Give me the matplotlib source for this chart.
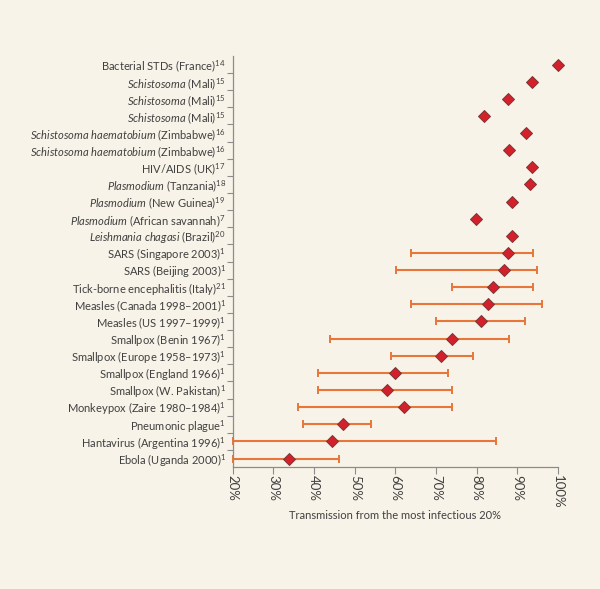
import numpy as np
import matplotlib
matplotlib.use("Agg")
import matplotlib.pyplot as plt
from matplotlib.ticker import FixedLocator

# шрифты и mathtext для верхних индексов и курсива
plt.rcParams['font.family'] = ['Lato', 'DejaVu Sans']
plt.rcParams['mathtext.fontset'] = 'custom'
plt.rcParams['mathtext.rm'] = 'Lato'
plt.rcParams['mathtext.it'] = 'Lato:italic'
plt.rcParams['mathtext.default'] = 'regular'

# данные (сверху вниз)
names = [
    "Bacterial STDs (France)$^{14}$",
    "$\\mathit{Schistosoma}$ (Mali)$^{15}$",
    "$\\mathit{Schistosoma}$ (Mali)$^{15}$",
    "$\\mathit{Schistosoma}$ (Mali)$^{15}$",
    "$\\mathit{Schistosoma\\ haematobium}$ (Zimbabwe)$^{16}$",
    "$\\mathit{Schistosoma\\ haematobium}$ (Zimbabwe)$^{16}$",
    "HIV/AIDS (UK)$^{17}$",
    "$\\mathit{Plasmodium}$ (Tanzania)$^{18}$",
    "$\\mathit{Plasmodium}$ (New Guinea)$^{19}$",
    "$\\mathit{Plasmodium}$ (African savannah)$^{7}$",
    "$\\mathit{Leishmania\\ chagasi}$ (Brazil)$^{20}$",
    "SARS (Singapore 2003)$^{1}$",
    "SARS (Beijing 2003)$^{1}$",
    "Tick-borne encephalitis (Italy)$^{21}$",
    "Measles (Canada 1998–2001)$^{1}$",
    "Measles (US 1997–1999)$^{1}$",
    "Smallpox (Benin 1967)$^{1}$",
    "Smallpox (Europe 1958–1973)$^{1}$",
    "Smallpox (England 1966)$^{1}$",
    "Smallpox (W. Pakistan)$^{1}$",
    "Monkeypox (Zaire 1980–1984)$^{1}$",
    "Pneumonic plague$^{1}$",
    "Hantavirus (Argentina 1996)$^{1}$",
    "Ebola (Uganda 2000)$^{1}$",
]
values = [100, 93.7, 87.7, 81.8, 92.1, 87.9, 93.7, 93.2, 88.8, 79.8, 88.8,
          87.8, 86.6, 83.9, 82.8, 81.1, 73.9, 71.2, 59.8, 58.0, 62.0, 47.1, 44.4, 33.8]
low = [np.nan] * 11 + [63.9, 60.1, 73.9, 63.9, 70.1, 44.0, 59.0, 41.0, 41.0, 36.1, 37.2, 20.0, 20.0]
high = [np.nan] * 11 + [93.9, 94.8, 93.9, 96.1, 92.0, 88.0, 79.0, 72.9, 73.9, 73.9, 53.9, 84.8, 46.2]
xticks = [20, 30, 40, 50, 60, 70, 80, 90, 100]

bg = '#f8f3e8'
grey = '#8c8c8c'
text_c = '#404040'

fig = plt.figure(figsize=(6, 5.89), dpi=100, facecolor=bg)
ax = fig.add_axes([0.388, 0.207, 0.542, 0.698], facecolor=bg)

y = np.arange(len(names))
v = np.array(values)
lo = np.array(low)
hi = np.array(high)
m = ~np.isnan(lo)

# доверительные интервалы
ax.errorbar(v[m], y[m], xerr=[v[m] - lo[m], hi[m] - v[m]], fmt='none',
            ecolor='#e8763a', elinewidth=1.5, capsize=2.6, capthick=1.4,
            zorder=2, clip_on=False)
# точки
ax.plot(v, y, linestyle='none', marker='D', markersize=6.6,
        markerfacecolor='#d4202a', markeredgecolor='#7a3535',
        markeredgewidth=0.7, zorder=3, clip_on=False)

ax.set_xlim(20, 100)
ax.set_ylim(len(names) - 0.5, -0.5)

ax.set_yticks(y)
ax.set_yticklabels(names)
ax.yaxis.set_minor_locator(FixedLocator(np.arange(0.5, len(names) - 1, 1)))
ax.tick_params(axis='y', which='major', length=0, pad=5, labelsize=8.0, labelcolor=text_c)
ax.tick_params(axis='y', which='minor', length=4.5, width=0.8, color=grey, direction='out')

ax.set_xticks(xticks)
ax.set_xticklabels([f'{t}%' for t in xticks], rotation=270)
ax.tick_params(axis='x', length=5, width=0.8, color=grey, pad=0.5,
               labelsize=9.5, labelcolor=text_c)

for s in ['top', 'right']:
    ax.spines[s].set_visible(False)
for s in ['left', 'bottom']:
    ax.spines[s].set_color(grey)
    ax.spines[s].set_linewidth(0.9)

ax.set_xlabel('Transmission from the most infectious 20%', fontsize=8,
              color=text_c, labelpad=1.5)

fig.savefig('out.png', dpi=100, facecolor=bg)
